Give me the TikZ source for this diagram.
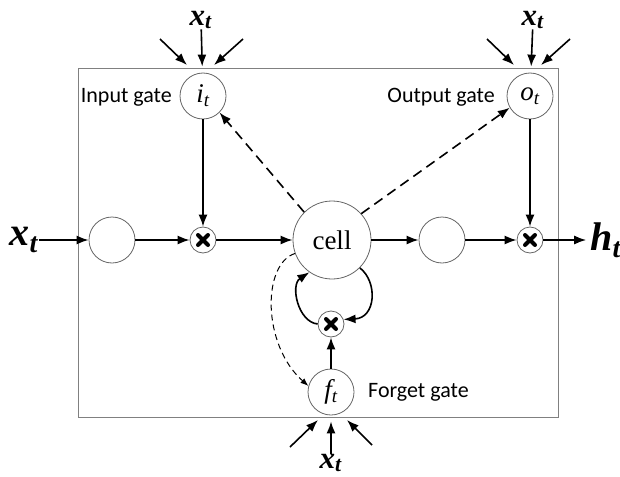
\documentclass[tikz,border=0pt]{standalone}
\usepackage{fontspec}
\setmainfont{Liberation Serif}
\newfontfamily\gatefont{Carlito}
\usetikzlibrary{arrows.meta, positioning, calc}

\newcommand{\xvar}{\textbf{\textit{x}}\textsubscript{\textbf{\textit{t}}}}

\begin{document}
\begin{tikzpicture}[x=1pt, y=-1pt,
    every node/.style={inner sep=0pt},
    unit/.style={circle, draw=gray!80!black, line width=0.8pt, minimum size=46pt},
    cellunit/.style={unit, minimum size=78pt, font=\fontsize{27}{27}\selectfont},
    mult/.style={circle, draw=gray!80!black, line width=0.8pt, minimum size=26pt,
        path picture={\draw[black, line width=4pt, line cap=round]
            ([shift={(-5pt,-5pt)}]path picture bounding box.center) -- ([shift={(5pt,5pt)}]path picture bounding box.center)
            ([shift={(-5pt,5pt)}]path picture bounding box.center) -- ([shift={(5pt,-5pt)}]path picture bounding box.center);}},
    flow/.style={-{Latex[length=12pt,width=9pt]}, line width=1.6pt},
    peep/.style={flow, dash pattern=on 10pt off 6pt},
    gatelabel/.style={font=\gatefont\fontsize{22}{22}\selectfont},
    var/.style={font=\fontsize{31}{31}\selectfont},
    bigvar/.style={font=\fontsize{40}{40}\selectfont},
    gatevar/.style={font=\fontsize{27}{27}\selectfont\itshape}
]
\useasboundingbox (0,0) rectangle (620,476);

% Block outline
\draw[gray, line width=1pt] (78,69) rectangle (558,417);

% Gates
\node[unit, gatevar] (ig) at (203,96) {i\textsubscript{t}};
\node[unit, gatevar] (og) at (530,96) {o\textsubscript{t}};
\node[unit, gatevar] (fg) at (331,392) {f\textsubscript{t}};
\node[gatelabel, anchor=east] (iglabel) at (172,97) {Input gate};
\node[gatelabel, anchor=east] (oglabel) at (495,97) {Output gate};
\node[gatelabel, anchor=west] (fglabel) at (368,392) {Forget gate};

% Main row
\node[bigvar] (xin) at (24,240) {\xvar};
\node[unit] (in1) at (112,240) {};
\node[mult] (m1) at (203,240) {};
\node[cellunit] (cell) at (332,240) {cell};
\node[unit] (out1) at (442,240) {};
\node[mult] (m2) at (530,240) {};
\node[mult] (mf) at (331,324) {};
\node[bigvar] (ht) at (606,240) {\textbf{\textit{h}}\textsubscript{\textbf{\textit{t}}}};

% Gate inputs
\node[var] (xi) at (201,20) {\xvar};
\node[var] (xo) at (533,20) {\xvar};
\node[var] (xf) at (331,463) {\xvar};
\draw[flow, shorten >=6pt] (xi) -- (ig);
\draw[flow, shorten >=6pt] (xo) -- (og);
\draw[flow, shorten >=6pt] (xf) -- (fg);
\foreach \g in {ig, og} {
    \draw[flow] ($(\g)+(-43,-57)$) -- ($(\g)+(-16,-31)$);
    \draw[flow] ($(\g)+(40,-57)$) -- ($(\g)+(11,-31)$);
}
\draw[flow] ($(fg)+(-41,55)$) -- ($(fg)+(-13,28)$);
\draw[flow] ($(fg)+(41,53)$) -- ($(fg)+(16,28)$);

% Data flow
\draw[flow] (xin) -- (in1);
\draw[flow] (in1) -- (m1);
\draw[flow] (m1) -- (cell);
\draw[flow] (cell) -- (out1);
\draw[flow] (out1) -- (m2);
\draw[flow, shorten >=4pt] (m2) -- (ht);
\draw[flow] (ig) -- (m1);
\draw[flow] (og) -- (m2);
\draw[flow] (fg) -- (mf);

% Recurrent loop
\draw[flow] (mf.west) .. controls (298,322) and (290,285) .. (cell.235);
\draw[flow] (cell.-45) .. controls (378,282) and (376,318) .. (mf.20);

% Peepholes
\draw[peep] (cell.135) -- (ig.-45);
\draw[peep] (cell.42) -- (og.210);
\draw[flow, line width=1pt, dash pattern=on 6pt off 4pt, -{Latex[length=8pt,width=6pt]}]
    (cell.200) .. controls (262,264) and (262,345) .. (fg.165);

\end{tikzpicture}
\end{document}
